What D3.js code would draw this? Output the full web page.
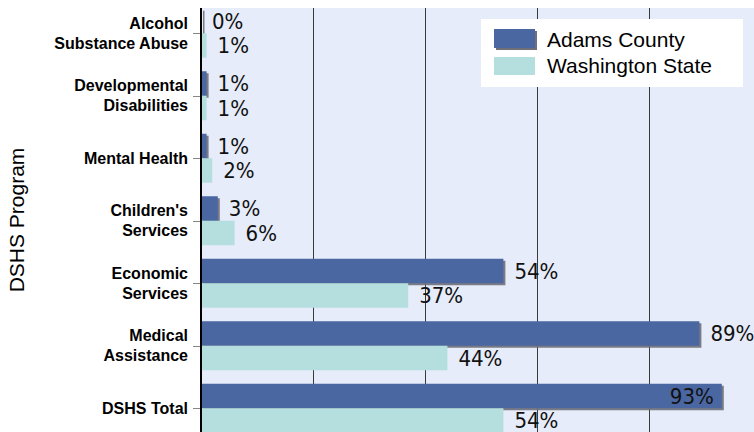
<!DOCTYPE html>
<html><head><meta charset="utf-8">
<script src="https://cdn.jsdelivr.net/npm/d3@7"></script>
<style>body{margin:0;background:#fff}svg{display:block}</style>
</head><body>
<svg id="c" width="754" height="432"></svg>
<script>
const categories = ["Alcohol Substance Abuse","Developmental Disabilities","Mental Health","Children's Services","Economic Services","Medical Assistance","DSHS Total"];
const categoryLines = [["Alcohol","Substance Abuse"],["Developmental","Disabilities"],["Mental Health"],["Children's","Services"],["Economic","Services"],["Medical","Assistance"],["DSHS Total"]];
const adamsCounty = [0,1,1,3,54,89,93];
const washingtonState = [1,1,2,6,37,44,54];
const seriesNames = ["Adams County","Washington State"];
const xTicks = [20,40,60,80];
const axisTitle = "DSHS Program";

const W = 754, H = 432;
const colors = ["#4A67A1","#B5DEDF"];
const svg = d3.select("#c");
const x = d3.scaleLinear().domain([0,100]).range([201,761]);
const y = d3.scaleBand().domain(categories).range([2,439.5]).paddingInner(0.216).paddingOuter(0.108);
const bw = y.bandwidth()/2;

svg.append("defs").append("clipPath").attr("id","pc")
  .append("rect").attr("x",201).attr("y",8).attr("width",W-201).attr("height",H-8);

svg.append("rect").attr("x",201).attr("y",8).attr("width",W-201).attr("height",H-8).attr("fill","#E6ECF9");

const plot = svg.append("g").attr("clip-path","url(#pc)");
plot.selectAll("line.grid").data(xTicks).join("line")
  .attr("x1",d=>Math.round(x(d))+0.5).attr("x2",d=>Math.round(x(d))+0.5)
  .attr("y1",8).attr("y2",H).attr("stroke","#3a3a3a").attr("stroke-width",1);

const series = [adamsCounty, washingtonState];
const fmt = d => d3.format(".0f")(d)+"%";
const labelFont = "'DejaVu Sans Condensed','DejaVu Sans',sans-serif";

series.forEach((vals,si)=>{
  const g = plot.append("g");
  const rows = vals.map((v,i)=>({v,cat:categories[i]}));
  if (si===0) {
    g.selectAll("rect.sh").data(rows).join("rect")
      .attr("x",x(0)+2).attr("y",d=>y(d.cat)+2)
      .attr("width",d=>Math.max(x(d.v)-x(0),1.5)).attr("height",bw)
      .attr("fill","#6f6f78").attr("opacity",0.9);
  }
  g.selectAll("rect.b").data(rows).join("rect")
    .attr("x",x(0)+1).attr("y",d=>y(d.cat)+si*bw)
    .attr("width",d=>Math.max(x(d.v)-x(0)-1,0)).attr("height",bw)
    .attr("fill",colors[si]);
});

series.forEach((vals,si)=>{
  vals.forEach((v,i)=>{
    const t = svg.append("text").text(fmt(v))
      .attr("font-family",labelFont).attr("font-size",22).attr("fill","#111")
      .attr("y",y(categories[i])+si*bw+bw/2).attr("dy","0.36em");
    const tw = t.node().getComputedTextLength();
    const xe = x(v);
    if (xe+12+tw > W+4) {
      t.attr("x",xe-8).attr("text-anchor","end");
    } else {
      t.attr("x",xe+11).attr("text-anchor","start");
    }
  });
});

svg.append("line").attr("x1",201).attr("x2",201).attr("y1",8).attr("y2",H).attr("stroke","#000").attr("stroke-width",2);
categories.forEach((c,i)=>{
  const cy = y(c)+bw;
  svg.append("line").attr("x1",193).attr("x2",200).attr("y1",Math.round(cy)+0.5).attr("y2",Math.round(cy)+0.5).attr("stroke","#888");
  const lines = categoryLines[i];
  const t = svg.append("text").attr("text-anchor","end")
    .attr("font-family","'Liberation Sans',Arial,sans-serif").attr("font-weight","bold").attr("font-size",16).attr("fill","#000");
  lines.forEach((ln,k)=>{
    t.append("tspan").attr("x",188).attr("y",cy+5.5-(lines.length-1)*10+k*20).text(ln);
  });
});

svg.append("text").attr("transform","translate(24,220) rotate(-90)")
  .attr("text-anchor","middle").attr("font-family","'Liberation Sans',Arial,sans-serif")
  .attr("font-size",21).attr("fill","#000").text(axisTitle);

const lg = svg.append("g");
lg.append("rect").attr("x",481).attr("y",19).attr("width",262).attr("height",68).attr("fill","#fff");
lg.append("rect").attr("x",496).attr("y",31).attr("width",41).attr("height",19).attr("fill","#6f6f78");
lg.append("rect").attr("x",494).attr("y",29).attr("width",41).attr("height",19).attr("fill",colors[0]);
lg.append("rect").attr("x",494).attr("y",57).attr("width",41).attr("height",18).attr("fill",colors[1]);
seriesNames.forEach((n,i)=>{
  lg.append("text").attr("x",547).attr("y",47+i*25.5).attr("font-family","'Liberation Sans',Arial,sans-serif")
    .attr("font-size",21).attr("fill","#000").text(n);
});
</script>
</body></html>
